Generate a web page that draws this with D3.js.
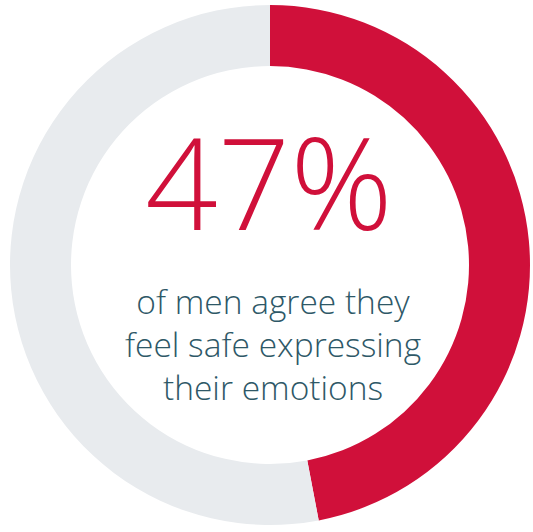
<!DOCTYPE html>
<html>
<head>
<meta charset="utf-8">
<script src="https://cdn.jsdelivr.net/npm/d3@7"></script>
<style>
  body { margin: 0; background: #fff; }
  svg { display: block; }
</style>
</head>
<body>
<div id="chart"></div>
<script>
// data
var categories = ["agree", "other"];
var values = [47, 53];
var colors = ["#d0103a", "#e8ebee"];
var bigLabel = "47%";
var captionLines = ["of men agree they", "feel safe expressing", "their emotions"];

var width = 533, height = 532;
var cx = 270, cy = 265;
var outerR = 260, innerR = 199;

var svg = d3.select("#chart").append("svg")
  .attr("width", width)
  .attr("height", height);

var g = svg.append("g")
  .attr("transform", "translate(" + cx + "," + cy + ")");

var pie = d3.pie().sort(null).value(function(d) { return d; });
var arc = d3.arc().innerRadius(innerR).outerRadius(outerR);

g.selectAll("path")
  .data(pie(values))
  .enter().append("path")
  .attr("d", arc)
  .attr("fill", function(d, i) { return colors[i]; });

// big number
g.append("text")
  .attr("x", -1)
  .attr("y", -35)
  .attr("text-anchor", "middle")
  .style("font-family", "'Open Sans', sans-serif")
  .style("font-weight", 300)
  .style("font-size", "127px")
  .style("fill", "#d0103a")
  .text(bigLabel);

// caption
g.selectAll(".caption")
  .data(captionLines)
  .enter().append("text")
  .attr("class", "caption")
  .attr("x", 3)
  .attr("y", function(d, i) { return 49 + i * 43; })
  .attr("text-anchor", "middle")
  .style("font-family", "'Open Sans', sans-serif")
  .style("font-weight", 300)
  .style("font-size", "33.5px")
  .style("fill", "#2e5867")
  .text(function(d) { return d; });
</script>
</body>
</html>
